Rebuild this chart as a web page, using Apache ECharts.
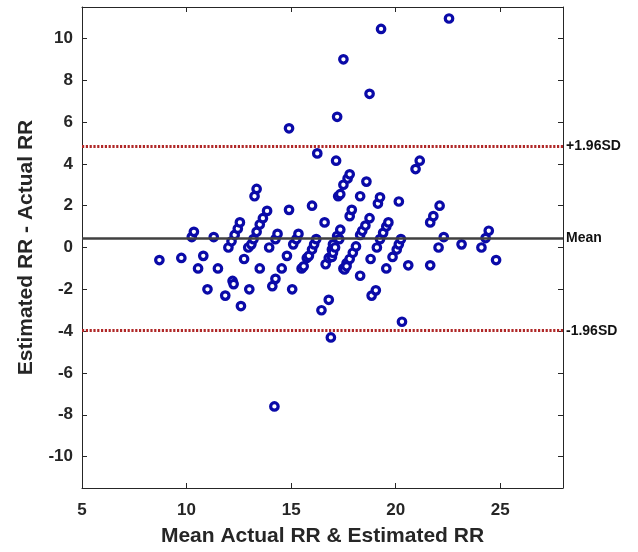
<!DOCTYPE html>
<html>
<head>
<meta charset="utf-8">
<script src="https://cdn.jsdelivr.net/npm/echarts@6/dist/echarts.min.js"></script>
<style>
  html, body { margin: 0; padding: 0; background: #fff; }
  #chart { width: 638px; height: 552px; }
</style>
</head>
<body>
<div id="chart"></div>
<script>
// mean of actual & estimated RR (x) and their difference (y)
const meanRR = [
  8.7, 9.75, 10.25, 10.35, 10.55, 10.8, 11.0, 11.3, 11.5, 11.85,
  12.0, 12.15, 12.3, 12.45, 12.55, 12.2, 12.25, 12.6, 12.75, 13.0, 12.95,
  13.1, 13.2, 13.35, 13.5, 13.65, 13.85, 13.25, 13.35, 13.5, 13.95,
  14.1, 14.25, 14.2, 14.25, 14.35, 14.55, 14.8, 14.9, 14.9, 15.05,
  15.1, 15.25, 15.35, 15.5, 15.6, 15.75, 15.85, 16.0, 16.0,
  16.1, 16.2, 16.25, 16.45, 16.8, 16.6, 16.65, 16.8, 16.9, 16.95, 16.95, 17.0,
  17.0, 17.1, 17.2, 17.15, 17.2, 17.25, 17.3, 17.35, 17.35, 17.5, 17.5, 17.5,
  17.65, 17.7, 17.8, 17.8, 17.9, 17.55, 17.65, 17.8, 17.95, 18.1,
  18.3, 18.3, 18.3, 18.4, 18.55, 18.6, 18.75, 18.75, 18.8, 18.85, 19.05,
  19.1, 19.15, 19.25, 19.25, 19.3, 19.4, 19.55, 19.55, 19.65, 19.85, 20.05, 20.15, 20.15, 20.25, 20.3,
  20.6, 20.95, 21.15, 21.65, 21.65, 21.8, 22.05, 22.1, 22.3, 22.55, 23.15, 24.1, 24.3, 24.45, 24.8
];
const diffRR = [
  -0.6, -0.5, 0.5, 0.75, -1.0, -0.4, -2.0, 0.5, -1.0, -2.3,
  0.0, 0.3, 0.6, 0.9, 1.2, -1.6, -1.75, -2.8, -0.55, -2.0, 0.0,
  0.15, 0.4, 0.75, 1.1, 1.4, 1.75, 2.45, 2.8, -1.0, 0.0,
  -1.85, -1.5, -7.6, 0.4, 0.65, -1.0, -0.4, 1.8, 5.7, -2.0,
  0.15, 0.4, 0.65, -1.0, -0.9, -0.5, -0.4, -0.1, 2.0,
  0.15, 0.4, 4.5, -3.0, -2.5, 1.2, -0.8, -0.5, -4.3, -0.1, -0.45, -0.25,
  0.15, 0.0, 0.55, 4.15, 6.25, 2.45, 0.4, 0.85, 2.55, 3.0, -1.0, 9.0,
  -0.75, 3.3, 3.5, 1.5, 1.8, -1.05, -0.9, -0.55, -0.25, 0.05,
  -1.35, 2.45, 0.6, 0.8, 1.05, 3.15, 1.4, 7.35, -0.55, -2.3, -2.05,
  0.0, 2.1, 2.4, 0.4, 10.45, 0.7, 1.0, -1.0, 1.2, -0.45, -0.1, 0.15, 2.2, 0.4, -3.55,
  -0.85, 3.75, 4.15, -0.85, 1.2, 1.5, 0.0, 2.0, 0.5, 10.95, 0.15, 0.0, 0.45, 0.8, -0.6
];
const meanDiff = 0.44;
const upperLimit = 4.86;
const lowerLimit = -3.98;
const xTicks = [5, 10, 15, 20, 25];
const yTicks = [-10, -8, -6, -4, -2, 0, 2, 4, 6, 8, 10];

const FONT = 'Arial, "Liberation Sans", sans-serif';
const TXT = '#262626';

const points = meanRR.map((x, i) => [x, diffRR[i]]);

const chart = echarts.init(document.getElementById('chart'));

const frameLine = { show: true, onZero: false, lineStyle: { color: TXT, width: 1 } };

const option = {
  backgroundColor: '#fff',
  animation: false,
  grid: { left: 82, top: 7, right: 75, bottom: 62 },
  xAxis: [
    {
      type: 'value',
      min: 5,
      max: 28,
      name: 'Mean Actual RR & Estimated RR',
      nameLocation: 'middle',
      nameGap: 38,
      nameTextStyle: { fontFamily: FONT, fontSize: 21, fontWeight: 'bold', color: TXT },
      axisLine: frameLine,
      axisTick: { show: true, inside: true, length: 5, customValues: xTicks, lineStyle: { color: TXT } },
      axisLabel: { customValues: xTicks, margin: 14, fontFamily: FONT, fontSize: 17, fontWeight: 'bold', color: TXT },
      splitLine: { show: false }
    },
    {
      type: 'value',
      position: 'top',
      min: 5,
      max: 28,
      axisLine: frameLine,
      axisTick: { show: true, inside: true, length: 5, customValues: xTicks, lineStyle: { color: TXT } },
      axisLabel: { show: false },
      splitLine: { show: false }
    }
  ],
  yAxis: [
    {
      type: 'value',
      min: -11.5,
      max: 11.5,
      name: 'Estimated RR - Actual RR',
      nameLocation: 'middle',
      nameGap: 45,
      nameTextStyle: { fontFamily: FONT, fontSize: 21, fontWeight: 'bold', color: TXT },
      axisLine: frameLine,
      axisTick: { show: true, inside: true, length: 5, customValues: yTicks, lineStyle: { color: TXT } },
      axisLabel: { customValues: yTicks, margin: 9, fontFamily: FONT, fontSize: 17, fontWeight: 'bold', color: TXT },
      splitLine: { show: false }
    },
    {
      type: 'value',
      position: 'right',
      min: -11.5,
      max: 11.5,
      axisLine: frameLine,
      axisTick: { show: true, inside: true, length: 5, customValues: yTicks, lineStyle: { color: TXT } },
      axisLabel: { show: false },
      splitLine: { show: false }
    }
  ],
  series: [
    {
      type: 'scatter',
      data: points,
      symbol: 'circle',
      symbolSize: 7.5,
      itemStyle: { color: '#fff', borderColor: '#0a0aa8', borderWidth: 3.2, opacity: 1 },
      markLine: {
        silent: true,
        symbol: 'none',
        label: {
          show: true,
          position: 'end',
          distance: 3,
          formatter: '{b}',
          fontFamily: FONT,
          fontSize: 14,
          fontWeight: 'bold',
          color: '#111'
        },
        data: [
          { name: '+1.96SD', yAxis: upperLimit, lineStyle: { color: '#b02828', width: 2.8, type: [2.2, 1.6] } },
          { name: 'Mean', yAxis: meanDiff, lineStyle: { color: '#404040', width: 2.5, type: 'solid' } },
          { name: '-1.96SD', yAxis: lowerLimit, lineStyle: { color: '#b02828', width: 2.8, type: [2.2, 1.6] } }
        ]
      }
    }
  ]
};

chart.setOption(option);
</script>
</body>
</html>
